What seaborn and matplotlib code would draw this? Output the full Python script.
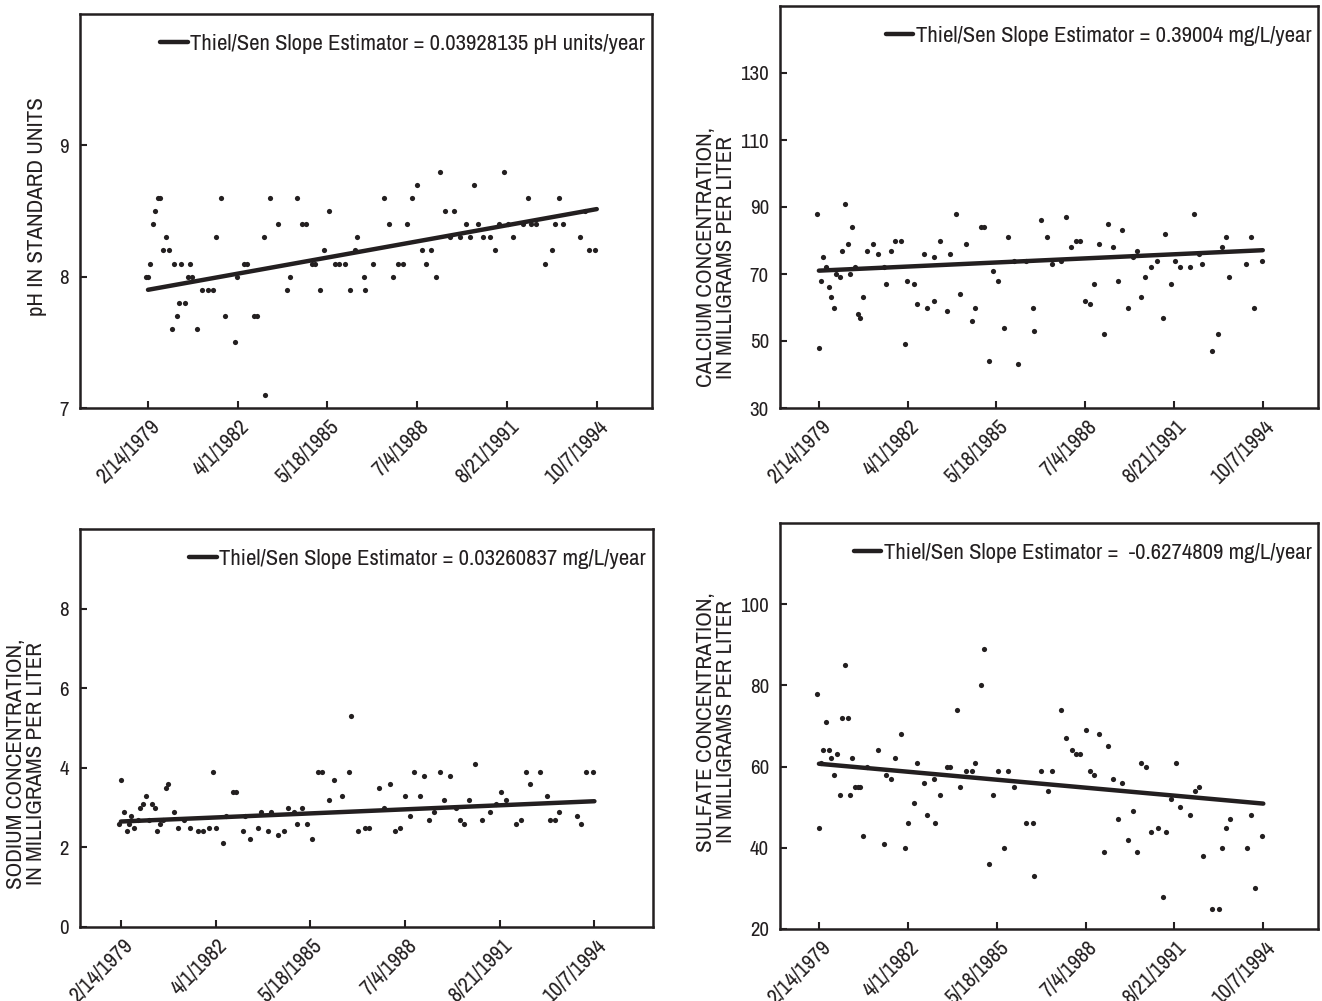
import numpy as np
import pandas as pd
import matplotlib
matplotlib.use("Agg")
import matplotlib.pyplot as plt
import matplotlib.transforms as mtransforms
import seaborn as sns

sns.set_theme(style="white")
plt.rcParams["font.family"] = ["Archivo Narrow", "DejaVu Sans"]
plt.rcParams["font.stretch"] = "condensed"

ink = "#231f20"

# x axis: sample dates as decimal years, ticks every 1142 days
tick_labels = ["2/14/1979", "4/1/1982", "5/18/1985", "7/4/1988", "8/21/1991", "10/7/1994"]

# pH
ph_year = [1979.05, 1979.12, 1979.19, 1979.28, 1979.36, 1979.46, 1979.55, 1979.65, 1979.75, 1979.84,
           1979.95, 1980.04, 1980.13, 1980.21, 1980.28, 1980.40, 1980.50, 1980.57, 1980.67, 1980.84,
           1981.01, 1981.21, 1981.40, 1981.49, 1981.68, 1981.79, 1982.17, 1982.24, 1982.46, 1982.57,
           1982.81, 1982.93, 1983.15, 1983.20, 1983.39, 1983.64, 1983.97, 1984.08, 1984.32, 1984.50,
           1984.63, 1984.83, 1984.93, 1985.11, 1985.26, 1985.42, 1985.63, 1985.77, 1986.00, 1986.15,
           1986.35, 1986.42, 1986.66, 1986.70, 1986.96, 1987.34, 1987.52, 1987.65, 1987.82, 1988.01,
           1988.16, 1988.32, 1988.51, 1988.66, 1988.80, 1988.99, 1989.15, 1989.30, 1989.49, 1989.64,
           1989.80, 1990.01, 1990.19, 1990.34, 1990.48, 1990.63, 1990.81, 1991.05, 1991.23, 1991.34,
           1991.52, 1991.68, 1991.84, 1992.20, 1992.35, 1992.48, 1992.63, 1992.97, 1993.19, 1993.30,
           1993.46, 1993.60, 1994.19, 1994.34, 1994.48, 1994.71]
ph_value = [8.0, 8.0, 8.1, 8.4, 8.5, 8.6, 8.6, 8.2, 8.3, 8.2,
            7.6, 8.1, 7.7, 7.8, 8.1, 7.8, 8.0, 8.1, 8.0, 7.6,
            7.9, 7.9, 7.9, 8.3, 8.6, 7.7, 7.5, 8.0, 8.1, 8.1,
            7.7, 7.7, 8.3, 7.1, 8.6, 8.4, 7.9, 8.0, 8.6, 8.4,
            8.4, 8.1, 8.1, 7.9, 8.2, 8.5, 8.1, 8.1, 8.1, 7.9,
            8.2, 8.3, 8.0, 7.9, 8.1, 8.6, 8.4, 8.0, 8.1, 8.1,
            8.4, 8.6, 8.7, 8.2, 8.1, 8.2, 8.0, 8.8, 8.5, 8.3,
            8.5, 8.3, 8.4, 8.3, 8.7, 8.4, 8.3, 8.3, 8.2, 8.4,
            8.8, 8.4, 8.3, 8.4, 8.6, 8.4, 8.4, 8.1, 8.2, 8.4,
            8.6, 8.4, 8.3, 8.5, 8.2, 8.2]

# calcium, mg/L
ca_year = [1979.05, 1979.11, 1979.19, 1979.28, 1979.37, 1979.46, 1979.53, 1979.64, 1979.74, 1979.85,
           1979.94, 1980.04, 1980.13, 1980.22, 1980.28, 1980.40, 1980.49, 1980.58, 1980.67, 1980.83,
           1981.01, 1981.20, 1981.40, 1981.49, 1981.67, 1981.80, 1982.01, 1982.16, 1982.24, 1982.48,
           1982.58, 1982.82, 1982.92, 1983.16, 1983.19, 1983.39, 1983.64, 1983.73, 1983.97, 1984.09,
           1984.31, 1984.51, 1984.63, 1984.83, 1984.94, 1985.11, 1985.25, 1985.42, 1985.63, 1985.78,
           1986.00, 1986.15, 1986.42, 1986.67, 1986.70, 1986.95, 1987.17, 1987.34, 1987.64, 1987.83,
           1988.02, 1988.18, 1988.32, 1988.51, 1988.66, 1988.80, 1988.99, 1989.16, 1989.30, 1989.48,
           1989.65, 1989.80, 1990.01, 1990.18, 1990.33, 1990.47, 1990.63, 1990.81, 1991.05, 1991.25,
           1991.33, 1991.53, 1991.68, 1991.83, 1992.20, 1992.35, 1992.51, 1992.63, 1992.96, 1993.19,
           1993.31, 1993.46, 1993.59, 1994.19, 1994.34, 1994.47, 1994.72]
ca_value = [88, 48, 68, 75, 72, 66, 63, 60, 70, 69,
            77, 91, 79, 70, 84, 72, 58, 57, 63, 77,
            79, 76, 72, 67, 77, 80, 80, 49, 68, 67,
            61, 76, 60, 75, 62, 80, 59, 76, 88, 64,
            79, 56, 60, 84, 84, 44, 71, 68, 54, 81,
            74, 43, 74, 60, 53, 86, 81, 73, 74, 87,
            78, 80, 80, 62, 61, 67, 79, 52, 85, 78,
            68, 83, 60, 75, 77, 63, 69, 72, 74, 57,
            82, 67, 74, 72, 72, 88, 76, 73, 47, 52,
            78, 81, 69, 73, 81, 60, 74]

# sodium, mg/L
na_year = [1979.06, 1979.13, 1979.21, 1979.31, 1979.38, 1979.47, 1979.56, 1979.67, 1979.76, 1979.86,
           1979.96, 1980.06, 1980.14, 1980.24, 1980.30, 1980.41, 1980.51, 1980.60, 1980.68, 1980.86,
           1981.02, 1981.21, 1981.41, 1981.66, 1981.82, 1982.03, 1982.18, 1982.26, 1982.49, 1982.60,
           1982.81, 1982.94, 1983.16, 1983.22, 1983.40, 1983.65, 1983.74, 1983.98, 1984.09, 1984.32,
           1984.52, 1984.64, 1984.83, 1984.94, 1985.11, 1985.26, 1985.44, 1985.63, 1985.77, 1986.00,
           1986.16, 1986.42, 1986.67, 1986.71, 1986.96, 1987.18, 1987.32, 1987.66, 1987.82, 1988.02,
           1988.17, 1988.33, 1988.51, 1988.67, 1988.81, 1989.00, 1989.15, 1989.31, 1989.48, 1989.65,
           1989.80, 1990.01, 1990.19, 1990.33, 1990.47, 1990.63, 1990.81, 1991.04, 1991.33, 1991.52,
           1991.68, 1991.83, 1992.18, 1992.35, 1992.50, 1992.64, 1992.96, 1993.19, 1993.29, 1993.46,
           1993.59, 1994.18, 1994.33, 1994.48, 1994.71]
na_value = [2.6, 3.7, 2.9, 2.4, 2.6, 2.8, 2.5, 2.7, 3.0, 3.1,
            3.3, 2.7, 3.1, 3.0, 2.4, 2.6, 2.7, 3.5, 3.6, 2.9,
            2.5, 2.7, 2.5, 2.4, 2.4, 2.5, 3.9, 2.5, 2.1, 2.8,
            3.4, 3.4, 2.4, 2.8, 2.2, 2.5, 2.9, 2.4, 2.9, 2.3,
            2.4, 3.0, 2.9, 2.6, 3.0, 2.6, 2.2, 3.9, 3.9, 3.2,
            3.7, 3.3, 3.9, 5.3, 2.4, 2.5, 2.5, 3.5, 3.0, 3.6,
            2.4, 2.5, 3.3, 2.8, 3.9, 3.3, 3.8, 2.7, 2.9, 3.9,
            3.2, 3.8, 3.0, 2.7, 2.6, 3.2, 4.1, 2.7, 2.9, 3.1,
            3.4, 3.2, 2.6, 2.7, 3.9, 3.6, 3.9, 3.3, 2.7, 2.7,
            2.9, 2.8, 2.6, 3.9, 3.9]

# sulfate, mg/L
so4_year = [1979.05, 1979.11, 1979.19, 1979.28, 1979.37, 1979.46, 1979.53, 1979.64, 1979.74, 1979.85,
            1979.94, 1980.04, 1980.13, 1980.22, 1980.28, 1980.40, 1980.49, 1980.58, 1980.67, 1980.83,
            1981.20, 1981.40, 1981.49, 1981.67, 1981.80, 1982.01, 1982.16, 1982.24, 1982.48, 1982.58,
            1982.82, 1982.92, 1983.16, 1983.19, 1983.39, 1983.64, 1983.73, 1983.97, 1984.09, 1984.31,
            1984.51, 1984.63, 1984.83, 1984.94, 1985.11, 1985.25, 1985.42, 1985.63, 1985.78, 1986.00,
            1986.42, 1986.67, 1986.70, 1986.95, 1987.17, 1987.34, 1987.64, 1987.83, 1988.02, 1988.18,
            1988.32, 1988.51, 1988.66, 1988.80, 1988.99, 1989.16, 1989.30, 1989.48, 1989.65, 1989.80,
            1990.01, 1990.18, 1990.33, 1990.47, 1990.63, 1990.81, 1991.05, 1991.25, 1991.33, 1991.53,
            1991.68, 1991.83, 1992.20, 1992.35, 1992.51, 1992.63, 1992.96, 1993.19, 1993.31, 1993.46,
            1993.59, 1994.19, 1994.34, 1994.47, 1994.72]
so4_value = [78, 45, 61, 64, 71, 64, 62, 58, 63, 53,
             72, 85, 72, 53, 62, 55, 55, 55, 43, 60,
             64, 41, 58, 57, 62, 68, 40, 46, 51, 61,
             56, 48, 57, 46, 53, 60, 60, 74, 55, 59,
             59, 61, 80, 89, 36, 53, 59, 40, 59, 55,
             46, 46, 33, 59, 54, 59, 74, 67, 64, 63,
             63, 69, 59, 58, 68, 39, 65, 57, 47, 56,
             42, 49, 39, 61, 60, 44, 45, 28, 44, 52,
             61, 50, 48, 54, 55, 38, 25, 25, 40, 45,
             47, 40, 48, 30, 43]

# Thiel/Sen trend: value at first tick date and slope per year
trend_start = {"ph": 7.9, "ca": 71.0, "na": 2.65, "so4": 60.7}
trend_slope = {"ph": 0.03928135, "ca": 0.39004, "na": 0.03260837, "so4": -0.6274809}

tick_dates = pd.to_datetime(tick_labels, format="%m/%d/%Y")
tick_years = np.asarray(tick_dates.year + (tick_dates.dayofyear - 1)
                        / np.where(tick_dates.is_leap_year, 366, 365))

fig = plt.figure(figsize=(13.22, 10.01), dpi=100)
W, H = 1322, 1001


def add_ax(left, top, right, bottom):
    return fig.add_axes([left / W, 1 - bottom / H, (right - left) / W, (bottom - top) / H])


panels = [
    dict(box=(80, 14, 652, 408), year=ph_year, value=ph_value, key="ph",
         xlim=(1976.75, 1996.69), ylim=(7, 10), yticks=[7, 8, 9],
         ylabel="pH IN STANDARD UNITS", label_xy=(-0.058, 0.51),
         legend="Thiel/Sen Slope Estimator = 0.03928135 pH units/year"),
    dict(box=(780, 6, 1318, 408), year=ca_year, value=ca_value, key="ca",
         xlim=(1977.75, 1996.71), ylim=(30, 150), yticks=[30, 50, 70, 90, 110, 130],
         ylabel="CALCIUM CONCENTRATION,\nIN MILLIGRAMS PER LITER", label_xy=(-0.082, 0.375),
         legend="Thiel/Sen Slope Estimator = 0.39004 mg/L/year"),
    dict(box=(80, 529, 653, 927), year=na_year, value=na_value, key="na",
         xlim=(1977.77, 1996.70), ylim=(0, 10), yticks=[0, 2, 4, 6, 8],
         ylabel="SODIUM CONCENTRATION,\nIN MILLIGRAMS PER LITER", label_xy=(-0.059, 0.41),
         legend="Thiel/Sen Slope Estimator = 0.03260837 mg/L/year"),
    dict(box=(780, 523, 1318, 929), year=so4_year, value=so4_value, key="so4",
         xlim=(1977.75, 1996.69), ylim=(20, 120), yticks=[20, 40, 60, 80, 100],
         ylabel="SULFATE CONCENTRATION,\nIN MILLIGRAMS PER LITER", label_xy=(-0.082, 0.51),
         legend="Thiel/Sen Slope Estimator =  -0.6274809 mg/L/year"),
]

label_shift = mtransforms.ScaledTranslation(0.155, 0, fig.dpi_scale_trans)

for p in panels:
    ax = add_ax(*p["box"])
    sns.scatterplot(x=p["year"], y=p["value"], ax=ax, color=ink, s=14,
                    linewidth=0, legend=False, zorder=3)
    tx = np.array([tick_years[0], tick_years[-1]])
    ty = trend_start[p["key"]] + trend_slope[p["key"]] * (tx - tick_years[0])
    sns.lineplot(x=tx, y=ty, ax=ax, color=ink, linewidth=3.2, label=p["legend"], zorder=2)

    ax.set_xlim(*p["xlim"])
    ax.set_ylim(*p["ylim"])
    ax.set_xticks(tick_years)
    ax.set_yticks(p["yticks"])
    ax.tick_params(axis="both", direction="in", length=5, width=1.5,
                   bottom=True, left=True, colors=ink, labelcolor=ink)
    ax.tick_params(axis="x", pad=6)
    ax.tick_params(axis="y", pad=8)
    ax.set_xticklabels(tick_labels, rotation=45, ha="right", va="top", fontsize=15.8)
    ax.set_yticklabels([str(t) for t in p["yticks"]], fontsize=15)
    # shift rotated date labels so they end just right of their tick
    for lab in ax.get_xticklabels():
        lab.set_transform(lab.get_transform() + label_shift)
    for s in ax.spines.values():
        s.set_color(ink)
        s.set_linewidth(1.8)

    ax.set_ylabel(p["ylabel"], fontsize=16.5, color=ink, linespacing=1.0)
    ax.yaxis.set_label_coords(*p["label_xy"])

    ax.legend(loc="center right", bbox_to_anchor=(0.988, 0.925), frameon=False,
              fontsize=16.4, handlelength=1.2, handletextpad=0.12,
              borderaxespad=0, borderpad=0, labelcolor=ink)

fig.savefig("out.png", dpi=100, facecolor="white")
